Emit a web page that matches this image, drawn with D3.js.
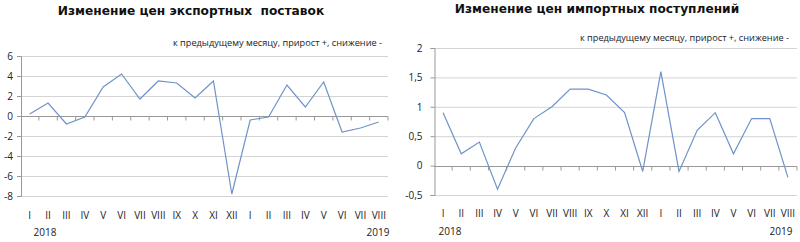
<!DOCTYPE html>
<html lang="ru">
<head>
<meta charset="UTF-8" />
<script src="https://d3js.org/d3.v7.min.js"></script>
<style>
  body { margin: 0; background: #fff; }
  svg { display: block; }
  .title { font-family: "DejaVu Sans", sans-serif; font-weight: bold; font-size: 12.2px; fill: #111; white-space: pre; }
  .note { font-family: "Open Sans", sans-serif; font-size: 9.2px; fill: #222; }
  .tick text { font-family: "Open Sans", sans-serif; font-size: 10px; fill: #222; }
  .year { font-family: "Open Sans", sans-serif; font-size: 10px; fill: #222; }
</style>
</head>
<body>
<svg id="chart" width="800" height="242"></svg>
<script>
  // подписи месяцев (янв 2018 — авг 2019)
  const months = ["I","II","III","IV","V","VI","VII","VIII","IX","X","XI","XII",
                  "I","II","III","IV","V","VI","VII","VIII"];
  const years = ["2018", "2019"];

  // экспорт, % к предыдущему месяцу
  const exportValues = [0.2, 1.3, -0.8, -0.1, 2.9, 4.2, 1.7, 3.5, 3.3, 1.8,
                        3.5, -7.8, -0.4, -0.1, 3.1, 0.9, 3.4, -1.6, -1.2, -0.6];
  const exportTicks = [-8, -6, -4, -2, 0, 2, 4, 6];

  // импорт, % к предыдущему месяцу
  const importValues = [0.9, 0.2, 0.4, -0.4, 0.3, 0.8, 1.0, 1.3, 1.3, 1.2,
                        0.9, -0.1, 1.6, -0.1, 0.6, 0.9, 0.2, 0.8, 0.8, -0.2];
  const importTicks = [-0.5, 0, 0.5, 1, 1.5, 2];

  const svg = d3.select("#chart");
  const fmt = d => String(d).replace(".", ",");

  function drawChart(o) {
    const g = svg.append("g");
    const idx = d3.range(o.values.length);
    const x = d3.scaleBand().domain(idx).range([o.left, o.right]);
    const y = d3.scaleLinear().domain(o.domain).range([o.bottom, o.top]);

    // сетка
    g.append("g").selectAll("line").data(o.ticks.filter(t => t !== 0)).join("line")
      .attr("x1", o.left).attr("x2", o.right)
      .attr("y1", d => y(d) + 0.5).attr("y2", d => y(d) + 0.5)
      .attr("stroke", "#d4d4d4");

    // ось Y
    const ay = g.append("g").attr("transform", `translate(${o.left + 0.5},0)`)
      .call(d3.axisLeft(y).tickValues(o.ticks).tickFormat(fmt).tickSize(4).tickPadding(o.pad));
    ay.select(".domain").attr("stroke", "#999");
    ay.selectAll(".tick line").attr("stroke", "#999");
    ay.selectAll(".tick text").attr("text-anchor", "end");

    // ось X (нулевая линия)
    const ax = g.append("g").attr("transform", `translate(0,${Math.round(y(0)) + 0.5})`);
    ax.append("line").attr("x1", o.left).attr("x2", o.right).attr("stroke", "#999");
    ax.selectAll("line.tk").data(idx.slice(1).concat([idx.length])).join("line")
      .attr("class", "tk")
      .attr("x1", d => o.left + d * x.bandwidth()).attr("x2", d => o.left + d * x.bandwidth())
      .attr("y1", 0).attr("y2", 4).attr("stroke", "#999");

    // подписи месяцев
    g.append("g").attr("class", "tick").selectAll("text").data(months).join("text")
      .attr("x", (d, i) => x(i) + x.bandwidth() / 2)
      .attr("y", o.labelY)
      .attr("text-anchor", "middle")
      .text(d => d);

    g.append("text").attr("class", "year").attr("x", o.year1X).attr("y", o.yearY)
      .attr("text-anchor", "middle").text(years[0]);
    g.append("text").attr("class", "year").attr("x", o.year2X).attr("y", o.yearY)
      .attr("text-anchor", "middle").text(years[1]);

    // линия
    const line = d3.line().x((d, i) => x(i) + x.bandwidth() / 2).y(d => y(d));
    g.append("path").datum(o.values)
      .attr("d", line).attr("fill", "none")
      .attr("stroke", "#6f93c8").attr("stroke-width", 1.2);

    g.append("text").attr("class", "title").attr("x", o.titleX).attr("y", o.titleY)
      .attr("text-anchor", "middle").text(o.title);
    g.append("text").attr("class", "note").attr("x", o.noteX).attr("y", o.noteY)
      .attr("text-anchor", "end").text("к предыдущему месяцу, прирост +, снижение -");
  }

  drawChart({
    values: exportValues, ticks: exportTicks, domain: [-8, 6],
    left: 20.5, right: 388, top: 56, bottom: 196, pad: 4,
    labelY: 219, yearY: 236, year1X: 45, year2X: 378,
    title: "Изменение цен экспортных  поставок", titleX: 191, titleY: 15,
    noteX: 382, noteY: 46
  });

  drawChart({
    values: importValues, ticks: importTicks, domain: [-0.5, 2],
    left: 434, right: 797, top: 48, bottom: 195, pad: 8,
    labelY: 217, yearY: 235, year1X: 450, year2X: 781,
    title: "Изменение цен импортных поступлений", titleX: 597, titleY: 13,
    noteX: 789, noteY: 41
  });
</script>
</body>
</html>
